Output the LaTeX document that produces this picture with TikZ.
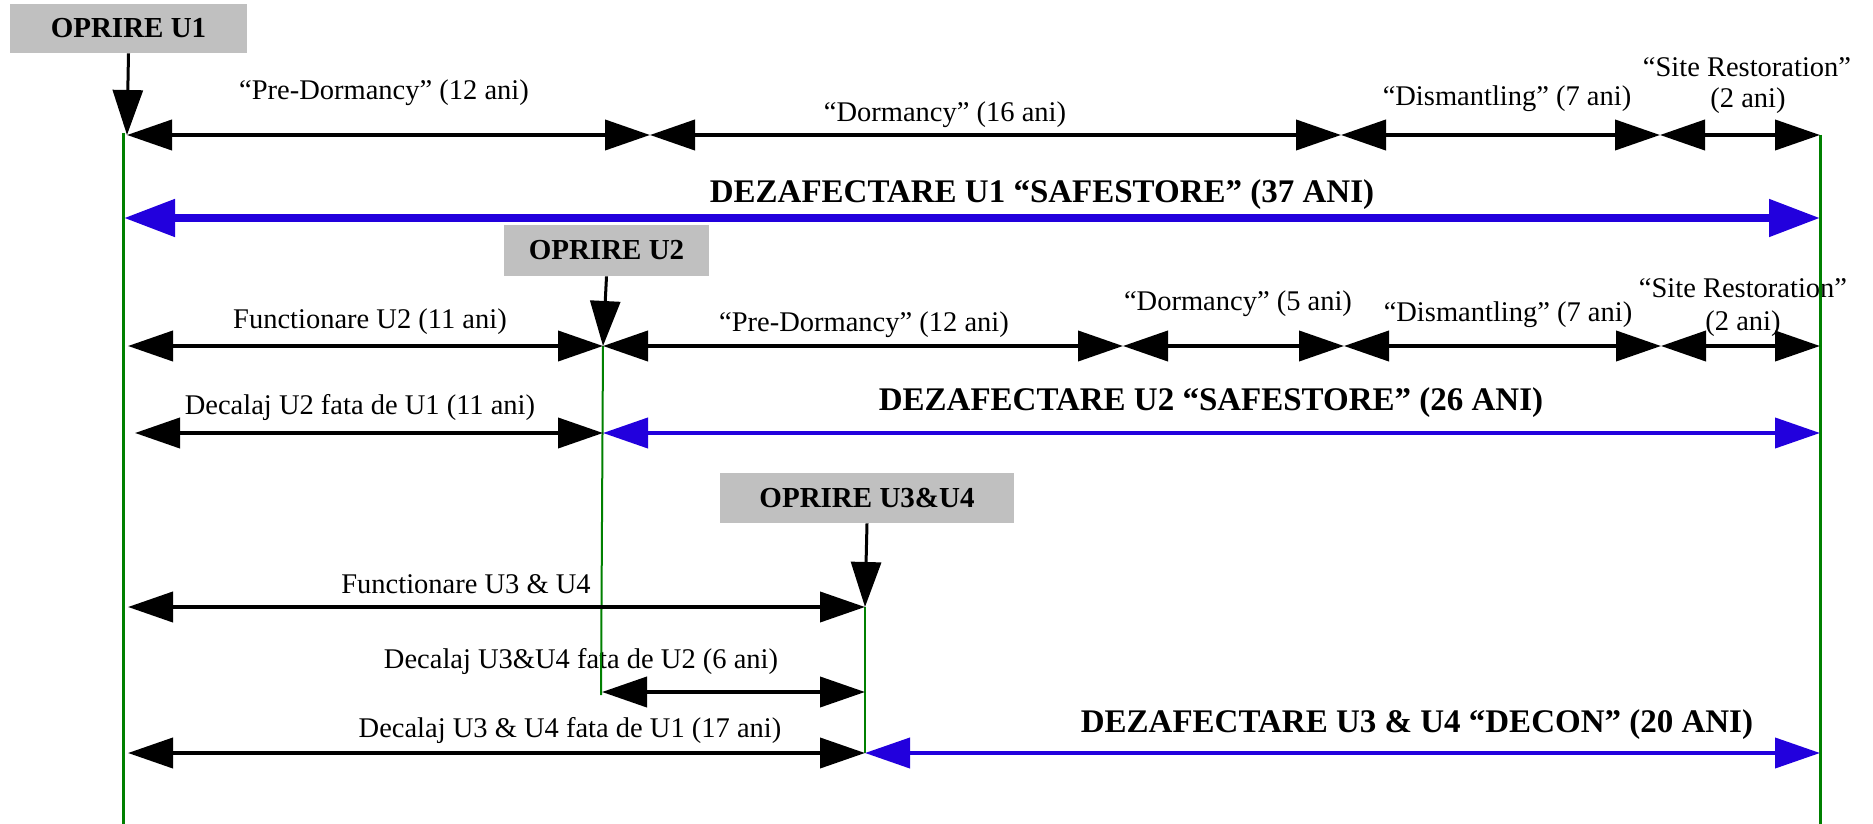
\documentclass[tikz,border=0pt]{standalone}
\usepackage{fontspec}
\setmainfont{Liberation Serif}
\usetikzlibrary{arrows.meta, positioning}

\definecolor{boxgray}{RGB}{192,192,192}
\definecolor{spanblue}{RGB}{34,0,221}
\definecolor{lifegreen}{RGB}{0,128,0}

\tikzset{
	box/.style={fill=boxgray, inner sep=0pt, text centered, font=\fontsize{14.5}{17}\selectfont\bfseries},
	lbl/.style={inner sep=0pt, anchor=base, font=\fontsize{14.25}{16}\selectfont},
	title/.style={inner sep=0pt, anchor=base, font=\fontsize{16.5}{19}\selectfont\bfseries},
	span/.style={<->, line width=2pt},
	bluespan/.style={<->, line width=2pt, spanblue},
	bigspan/.style={bigtip-bigtip, line width=4pt, spanblue},
	life/.style={lifegreen, line width=1.5pt},
	thinlife/.style={lifegreen, line width=1pt},
	bigtip/.tip={Triangle[length=25.5pt, width=18pt]}
}

\begin{document}
\begin{tikzpicture}[x=0.5pt, y=-0.5pt, >={Triangle[length=22.5pt, width=15pt]}]
	\useasboundingbox (0,0) rectangle (1873,824);

	     % nodes %
	\node[box, minimum width=118.5pt, minimum height=24.5pt] (opr1) at (128.5,28.5) {OPRIRE U1};
	\node[box, minimum width=102.5pt, minimum height=25.5pt] (opr2) at (606.5,250.5) {OPRIRE U2};
	\node[box, minimum width=147pt, minimum height=25pt] (opr3) at (867,498) {OPRIRE U3\&U4};

	% time points
	\coordinate (g1top) at (123,133);  \coordinate (g1bot) at (123,824);
	\coordinate (gEtop) at (1820,135); \coordinate (gEbot) at (1820,824);
	\coordinate (g2bot) at (601,695);
	\coordinate (u1a) at (127,135);  \coordinate (r1a) at (650,135);  \coordinate (r1b) at (1341,135);
	\coordinate (r1c) at (1660,135); \coordinate (enda) at (1820,135);
	\coordinate (u1b) at (124,218);  \coordinate (endb) at (1820,218);
	\coordinate (u1c) at (128,346);  \coordinate (u2a) at (603,346);  \coordinate (r2a) at (1123,346);
	\coordinate (r2b) at (1344,346); \coordinate (r2c) at (1661,346); \coordinate (endc) at (1820,346);
	\coordinate (r3a) at (135,433);  \coordinate (u2b) at (603,433);  \coordinate (endd) at (1820,433);
	\coordinate (u1d) at (128,607);  \coordinate (u3a) at (865,607);
	\coordinate (u2c) at (602,692);  \coordinate (u3b) at (865,692);
	\coordinate (u1e) at (128,753);  \coordinate (u3c) at (865,753);  \coordinate (ende) at (1820,753);

	% labels
	\node[lbl] (pd1) at (384,100) {``Pre-Dormancy'' (12 ani)};
	\node[lbl] (do1) at (945,121) {``Dormancy'' (16 ani)};
	\node[lbl] (di1) at (1507,105) {``Dismantling'' (7 ani)};
	\node[lbl] (sr1) at (1747,77) {``Site Restoration''};
	\node[lbl] (sy1) at (1748,108) {(2 ani)};
	\node[title] (dz1) at (1042,202) {DEZAFECTARE U1 ``SAFESTORE'' (37 ANI)};

	\node[lbl] (fu2) at (370,328) {Functionare U2 (11 ani)};
	\node[lbl] (pd2) at (864,331) {``Pre-Dormancy'' (12 ani)};
	\node[lbl] (do2) at (1238,310) {``Dormancy'' (5 ani)};
	\node[lbl] (di2) at (1508,321) {``Dismantling'' (7 ani)};
	\node[lbl] (sr2) at (1743,297) {``Site Restoration''};
	\node[lbl] (sy2) at (1743,330) {(2 ani)};
	\node[lbl] (dc2) at (360,414) {Decalaj U2 fata de U1 (11 ani)};
	\node[title] (dz2) at (1211,410) {DEZAFECTARE U2 ``SAFESTORE'' (26 ANI)};

	\node[lbl] (fu3) at (466,593) {Functionare U3 \& U4};
	\node[lbl] (dc32) at (581,668) {Decalaj U3\&U4 fata de U2 (6 ani)};
	\node[lbl] (dc31) at (570,737) {Decalaj U3 \& U4 fata de U1 (17 ani)};
	\node[title] (dz3) at (1417,732) {DEZAFECTARE U3 \& U4 ``DECON'' (20 ANI)};

	% edges %
	\draw[life] (g1top) -- (g1bot);
	\draw[life] (gEtop) -- (gEbot);
	\draw[thinlife] (u2a) -- (g2bot);
	\draw[thinlife] (u3a) -- (u3c);

	\draw[->, line width=1.5pt] (opr1.south) -- (u1a);
	\draw[->, line width=1.5pt] (opr2.south) -- (u2a);
	\draw[->, line width=1.5pt] (opr3.south) -- (u3a);

	\draw[span] (u1a) -- (r1a);
	\draw[span] (r1a) -- (r1b);
	\draw[span] (r1b) -- (r1c);
	\draw[span] (r1c) -- (enda);
	\draw[bigspan] (u1b) -- (endb);

	\draw[span] (u1c) -- (u2a);
	\draw[span] (u2a) -- (r2a);
	\draw[span] (r2a) -- (r2b);
	\draw[span] (r2b) -- (r2c);
	\draw[span] (r2c) -- (endc);
	\draw[span] (r3a) -- (u2b);
	\draw[bluespan] (u2b) -- (endd);

	\draw[span] (u1d) -- (u3a);
	\draw[span] (u2c) -- (u3b);
	\draw[span] (u1e) -- (u3c);
	\draw[bluespan] (u3c) -- (ende);
\end{tikzpicture}
\end{document}
